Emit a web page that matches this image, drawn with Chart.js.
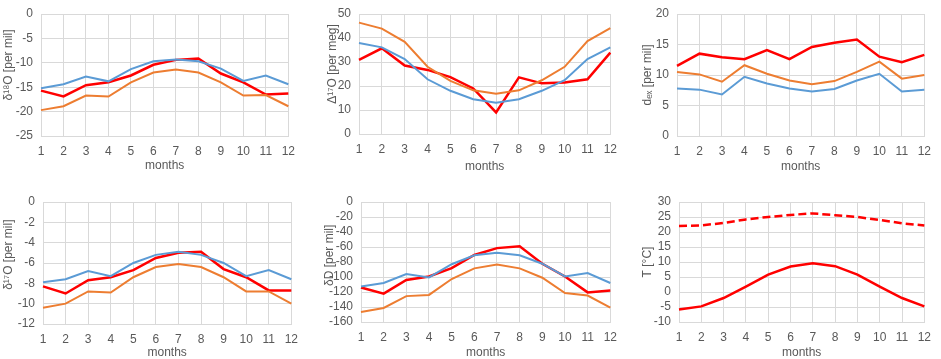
<!DOCTYPE html>
<html>
<head>
<meta charset="utf-8">
<script src="https://cdn.jsdelivr.net/npm/chart.js@4.4.1/dist/chart.umd.min.js"></script>
<style>
  body { margin: 0; background: #fff; width: 941px; height: 359px; position: relative; overflow: hidden; }
  canvas { position: absolute; }
</style>
</head>
<body>
<canvas id="c1"></canvas>
<canvas id="c2"></canvas>
<canvas id="c3"></canvas>
<canvas id="c4"></canvas>
<canvas id="c5"></canvas>
<canvas id="c6"></canvas>
<script>
// --- datos ---
const meses = ['1', '2', '3', '4', '5', '6', '7', '8', '9', '10', '11', '12'];

const d18O_azul    = [-15.2, -14.4, -12.8, -13.8, -11.3, -9.7, -9.3, -9.7, -11.2, -13.7, -12.6, -14.4];
const d18O_rojo    = [-15.7, -16.9, -14.6, -14.0, -12.6, -10.4, -9.4, -9.1, -12.2, -14.0, -16.5, -16.3];
const d18O_naranja = [-19.7, -18.9, -16.7, -16.9, -14.0, -12.0, -11.4, -12.0, -14.0, -16.7, -16.6, -18.9];

const D17O_azul    = [37.9, 36.1, 31.2, 22.8, 18.0, 14.5, 13.0, 14.5, 18.0, 22.4, 31.2, 36.1];
const D17O_rojo    = [30.9, 35.7, 28.5, 26.7, 23.7, 19.0, 9.0, 23.6, 21.1, 21.5, 22.8, 33.9];
const D17O_naranja = [46.4, 43.9, 38.4, 28.0, 22.1, 18.2, 16.8, 18.2, 22.4, 28.0, 38.7, 44.1];

const dex_azul    = [7.8, 7.6, 6.8, 9.7, 8.6, 7.8, 7.3, 7.7, 9.1, 10.2, 7.3, 7.6];
const dex_rojo    = [11.5, 13.5, 12.9, 12.6, 14.1, 12.6, 14.6, 15.3, 15.8, 13.0, 12.1, 13.3];
const dex_naranja = [10.5, 10.1, 8.9, 11.6, 10.2, 9.1, 8.5, 9.0, 10.5, 12.2, 9.4, 10.0];

const d17O_azul    = [-7.9, -7.6, -6.8, -7.3, -6.0, -5.2, -4.9, -5.2, -6.0, -7.3, -6.7, -7.6];
const d17O_rojo    = [-8.3, -9.0, -7.7, -7.4, -6.7, -5.5, -5.0, -4.9, -6.6, -7.4, -8.7, -8.7];
const d17O_naranja = [-10.4, -10.0, -8.8, -8.9, -7.4, -6.4, -6.1, -6.4, -7.4, -8.8, -8.8, -10.0];

const dD_azul    = [-112.6, -108, -96, -100.6, -83, -71, -67.7, -71, -82.3, -99.3, -94.8, -108];
const dD_rojo    = [-113.9, -122.2, -103.9, -99.3, -88.1, -70.7, -61.5, -59, -82.3, -99.3, -120.5, -118];
const dD_naranja = [-146.7, -141.3, -125.5, -123.9, -102.7, -88.5, -83.5, -88.5, -101, -121.4, -124.7, -140.9];

const T_superior = [22.0, 22.2, 23.0, 24.2, 25.0, 25.7, 26.2, 25.6, 25.0, 24.0, 22.9, 22.2];
const T_inferior = [-5.8, -4.8, -2.0, 1.8, 5.8, 8.5, 9.6, 8.6, 5.8, 1.8, -2.0, -4.8];

// --- estilos ---
const AZUL = '#5B9BD5';
const NARANJA = '#ED7D31';
const ROJO = '#FF0000';
const GRIS_GRID = '#D9D9D9';
const GRIS_TEXTO = '#595959';
const FUENTE = '"Liberation Sans", Arial, sans-serif';

const serie = (data, color, ancho, dash) => ({
    data, borderColor: color, borderWidth: ancho, borderDash: dash || [],
    pointRadius: 0, tension: 0, fill: false
});

const tresSeries = (azul, naranja, rojo) => [
    serie(azul, AZUL, 2), serie(naranja, NARANJA, 2), serie(rojo, ROJO, 2.5)
];

// caja: posicion del canvas y del area del grafico
function crearPanel(id, caja, tituloY, yMin, yMax, paso, datasets) {
    const canvas = document.getElementById(id);
    canvas.width = caja.w;
    canvas.height = caja.h;
    canvas.style.left = caja.left + 'px';
    canvas.style.top = caja.top + 'px';

    // espacios al inicio para subir un poco el titulo (como en Excel)
    const texto = ' '.repeat(caja.subir || 0) + tituloY;

    new Chart(canvas, {
        type: 'line',
        data: { labels: meses, datasets },
        options: {
            responsive: false,
            animation: false,
            devicePixelRatio: 1,
            layout: { padding: { top: 6, right: caja.padR, bottom: 0, left: 0 } },
            plugins: { legend: { display: false }, tooltip: { enabled: false } },
            scales: {
                x: {
                    offset: false,
                    grid: { color: GRIS_GRID, drawTicks: false },
                    border: { color: GRIS_GRID },
                    ticks: { color: GRIS_TEXTO, padding: 10, maxRotation: 0, autoSkip: false,
                             font: { family: FUENTE, size: 12, lineHeight: 1 } },
                    title: { display: true, text: 'months', color: GRIS_TEXTO,
                             padding: { top: 0, bottom: caja.titlePadB },
                             font: { family: FUENTE, size: 12, lineHeight: 1.2 } },
                    afterFit: (s) => { s.height = caja.xh; }
                },
                y: {
                    min: yMin, max: yMax,
                    grid: { color: GRIS_GRID, drawTicks: false },
                    border: { display: false },
                    ticks: { stepSize: paso, color: GRIS_TEXTO, padding: 8,
                             font: { family: FUENTE, size: 12, lineHeight: 1 } },
                    title: { display: true, text: texto, color: GRIS_TEXTO,
                             padding: { top: 1, bottom: 0 },
                             font: { family: FUENTE, size: 12, lineHeight: 1.2 } },
                    afterFit: (s) => { s.width = caja.yw; }
                }
            }
        }
    });
}

crearPanel('c1', { left: 0, top: 0, w: 305, h: 179, yw: 41, padR: 15, xh: 43, titlePadB: 6, subir: 6 },
    'δ¹⁸O [per mil]', -25, 0, 5, tresSeries(d18O_azul, d18O_naranja, d18O_rojo));

crearPanel('c2', { left: 324, top: 0, w: 303, h: 179, yw: 35, padR: 15, xh: 45, titlePadB: 5, subir: 6 },
    'Δ¹⁷O [per meg]', 0, 50, 10, tresSeries(D17O_azul, D17O_naranja, D17O_rojo));

crearPanel('c3', { left: 639, top: 0, w: 302, h: 179, yw: 38, padR: 10, xh: 43, titlePadB: 5 },
    'dₑₓ [per mil]', 0, 20, 5, tresSeries(dex_azul, dex_naranja, dex_rojo));

crearPanel('c4', { left: 0, top: 188, w: 308, h: 172, yw: 43, padR: 15, xh: 36, titlePadB: 0, subir: 5 },
    'δ¹⁷O [per mil]', -12, 0, 2, tresSeries(d17O_azul, d17O_naranja, d17O_rojo));

crearPanel('c5', { left: 321, top: 188, w: 306, h: 172, yw: 40, padR: 15, xh: 38, titlePadB: 0, subir: 4 },
    'δD [per mil]', -160, 0, 20, tresSeries(dD_azul, dD_naranja, dD_rojo));

crearPanel('c6', { left: 639, top: 188, w: 302, h: 172, yw: 40, padR: 8, xh: 38, titlePadB: 0 },
    'T [°C]', -10, 30, 5, [serie(T_superior, ROJO, 2.5, [8, 4]), serie(T_inferior, ROJO, 2.5)]);
</script>
</body>
</html>
